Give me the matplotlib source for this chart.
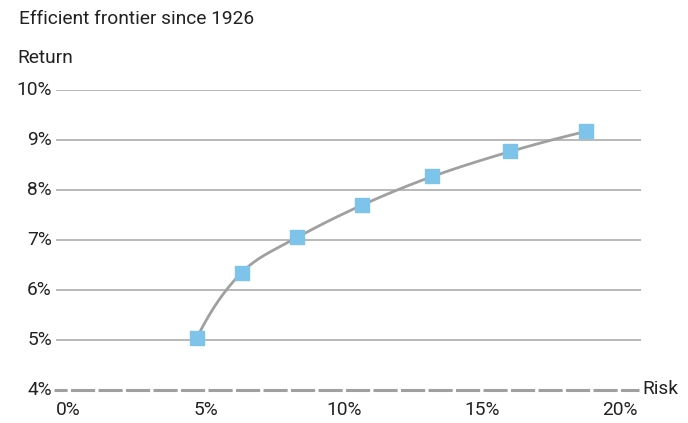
import numpy as np
import matplotlib
matplotlib.use("Agg")
import matplotlib.pyplot as plt

risk = [4.68, 6.30, 8.31, 10.67, 13.21, 16.04, 18.77]
ret = [5.05, 6.35, 7.05, 7.70, 8.27, 8.77, 9.17]
y_ticks = [4, 5, 6, 7, 8, 9, 10]
y_labels = ["4%", "5%", "6%", "7%", "8%", "9%", "10%"]
x_ticks = [0, 5, 10, 15, 20]
x_labels = ["0%", "5%", "10%", "15%", "20%"]

plt.rcParams['font.family'] = ['Roboto', 'DejaVu Sans']
W, H = 688, 423
fig = plt.figure(figsize=(W / 100, H / 100), dpi=100)

def fx(px):
    return px / W

def fy(py):
    return 1 - py / H

left, right, top, bottom = 56, 641, 90, 390
ax = fig.add_axes([fx(left), fy(bottom), fx(right) - fx(left), fy(top) - fy(bottom)])
x0px, x20px = 68, 619.6
ppu = (x20px - x0px) / 20
ax.set_xlim((left - x0px) / ppu, (right - x0px) / ppu)
ax.set_ylim(4, 10)

for s in ax.spines.values():
    s.set_visible(False)
ax.set_xticks([])
ax.set_yticks([])

grid_c = "#A6A6A6"
for yv in y_ticks[1:]:
    ax.axhline(yv, color=grid_c, lw=1.1, zorder=1)
ax.axhline(4, xmin=-2 / 585, xmax=583 / 585, color="#A0A0A0", lw=2.2,
           ls=(3.6, (7.9, 1.1)), zorder=1, clip_on=False)

# smooth curve (cubic Hermite through the points)
P = np.column_stack([risk, ret])
n = len(P)
T = np.zeros_like(P)
for i in range(1, n - 1):
    T[i] = (P[i + 1] - P[i - 1]) / 2
T[0] = 2 * (P[1] - P[0]) - T[1]
T[-1] = 2 * (P[-1] - P[-2]) - T[-2]
xs, ys = [], []
u = np.linspace(0, 1, 40)
h00 = 2 * u**3 - 3 * u**2 + 1
h10 = u**3 - 2 * u**2 + u
h01 = -2 * u**3 + 3 * u**2
h11 = u**3 - u**2
for i in range(n - 1):
    seg = (h00[:, None] * P[i] + h10[:, None] * T[i] + h01[:, None] * P[i + 1] + h11[:, None] * T[i + 1])
    xs.extend(seg[:, 0]); ys.extend(seg[:, 1])
ax.plot(xs, ys, color="#A0A0A0", lw=2.0, zorder=2, solid_capstyle='round')
ax.plot(risk, ret, ls="none", marker="s", ms=10, color="#7DC3EA", mec="#7DC3EA", zorder=3, clip_on=False)

tc = "#222222"
fs = 13.8
for yv, lab in zip(y_ticks, y_labels):
    fig.text(fx(52), fy(bottom - (yv - 4) * 50), lab, ha="right", va="center", fontsize=fs, color=tc)
for xv, lab in zip(x_ticks, x_labels):
    fig.text(fx(x0px + xv * ppu), fy(410), lab, ha="center", va="center", fontsize=fs, color=tc)

fig.text(fx(642), fy(389), "Risk", ha="left", va="center", fontsize=fs, color=tc)
fig.text(fx(17), fy(58), "Return", ha="left", va="center", fontsize=fs, color=tc)
fig.text(fx(19), fy(19), "Efficient frontier since 1926", ha="left", va="center", fontsize=fs, color=tc)

fig.savefig("out.png", dpi=100)
